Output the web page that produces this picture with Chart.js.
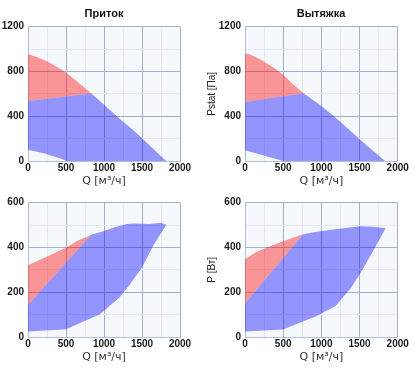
<!DOCTYPE html>
<html><head><meta charset="utf-8">
<script src="https://cdn.jsdelivr.net/npm/chart.js@4"></script>
<style>
html,body{margin:0;padding:0;background:#fff;overflow:hidden;width:417px;height:371px}
#wrap{position:relative;width:417px;height:371px;overflow:hidden;background:#fff}
canvas{position:absolute}
</style></head><body><div id="wrap">
<canvas id="c1" width="208" height="188" style="left:0;top:0"></canvas>
<canvas id="c2" width="242" height="188" style="left:200px;top:0"></canvas>
<canvas id="c3" width="208" height="183" style="left:0;top:188px"></canvas>
<canvas id="c4" width="242" height="183" style="left:200px;top:188px"></canvas>
</div>
<script>
// ---- titles / labels ----
const titles = ['Приток', 'Вытяжка'];
const xTitle = 'Q [м³/ч]';
const yTitlePressure = 'Pstat [Па]';
const yTitlePower = 'P [Вт]';

// ---- axis ranges / ticks ----
const qMax = 2000, qStep = 250, qLabelStep = 500;
const pMax = 1200, pStep = 200, pLabelStep = 400;
const wMax = 600, wStep = 100, wLabelStep = 200;

// ---- Приток, Pstat ----
const supPresRedQ = [0, 132, 263, 395, 500, 614, 746, 833, 0];
const supPresRedV = [955, 925, 887, 836, 791, 728, 654, 603, 537];
const supPresBlueQ = [0, 833, 1009, 1228, 1360, 1491, 1667, 1820, 504, 439, 219, 0];
const supPresBlueV = [537, 603, 498, 364, 290, 209, 96, 0, 0, 21, 66, 101];

// ---- Вытяжка, Pstat ----
const extPresRedQ = [0, 44, 132, 219, 395, 500, 614, 768, 0];
const extPresRedV = [961, 955, 931, 901, 827, 770, 695, 606, 528];
const extPresBlueQ = [0, 768, 1009, 1184, 1300, 1491, 1667, 1835, 500, 0];
const extPresBlueV = [528, 606, 488, 388, 320, 200, 96, 0, 0, 96];

// ---- Приток, P ----
const supPowRedQ = [0, 200, 505, 636, 833, 0];
const supPowRedV = [321, 352, 400, 428, 457, 144];
const supPowBlueQ = [0, 833, 1009, 1140, 1300, 1400, 1600, 1750, 1820, 1650, 1500, 1340, 1200, 940, 500, 0];
const supPowBlueV = [144, 457, 475, 490, 505, 507, 505, 510, 502, 410, 310, 235, 175, 100, 35, 25];

// ---- Вытяжка, P ----
const extPowRedQ = [0, 153, 372, 503, 635, 762, 0];
const extPowRedV = [347, 381, 411, 428, 445, 459, 150];
const extPowBlueQ = [0, 762, 941, 1160, 1510, 1685, 1842, 1680, 1520, 1390, 1190, 945, 500, 0];
const extPowBlueV = [150, 459, 470, 480, 495, 492, 486, 385, 290, 220, 140, 95, 33, 25];

const RED = 'rgba(255,0,0,0.40)';
const BLUE = 'rgba(0,0,255,0.40)';
const MAJOR = '#a3b0cc';
const MINOR = '#e3e8f1';
const TICKFONT = {family: '"Liberation Sans Narrow","Liberation Sans",Arial,sans-serif', size: 10, weight: 'bold'};

const pts = (qs, vs) => qs.map((q, i) => ({x: q, y: vs[i]}));

const bgPlugin = {
  id: 'plotBg',
  beforeDraw(chart) {
    const {ctx, chartArea: a} = chart;
    ctx.save();
    ctx.fillStyle = '#f5f8fc';
    ctx.fillRect(a.left, a.top, a.right - a.left, a.bottom - a.top);
    ctx.restore();
  }
};

function makeChart(id, o) {
  const ds = (qs, vs, color) => ({
    data: pts(qs, vs), showLine: true, fill: 'shape', backgroundColor: color,
    borderColor: 'transparent', borderWidth: 0, pointRadius: 0, tension: 0
  });
  return new Chart(document.getElementById(id), {
    type: 'scatter',
    data: {datasets: [ds(o.blueQ, o.blueV, BLUE), ds(o.redQ, o.redV, RED)]},
    plugins: [bgPlugin],
    options: {
      responsive: false, animation: false, devicePixelRatio: 1,
      layout: {padding: {top: o.padTop || 0, bottom: o.padBottom || 0, left: 0, right: 0}},
      plugins: {
        legend: {display: false}, tooltip: {enabled: false},
        title: {display: !!o.title, text: o.title || '', color: '#111',
          font: {family: '"Liberation Sans",Arial,sans-serif', size: 11, weight: 'bold'},
          padding: {top: 7, bottom: 6.5}}
      },
      scales: {
        x: {
          type: 'linear', min: 0, max: qMax,
          grid: {drawTicks: false, lineWidth: 1,
            color: c => (c.tick && c.tick.value % qLabelStep === 0) ? MAJOR : MINOR},
          border: {color: '#b3bfd8'},
          ticks: {stepSize: qStep, autoSkip: false, maxRotation: 0, padding: 1.5, color: '#1a1a1a', font: TICKFONT,
            callback: v => v % qLabelStep === 0 ? String(v) : ''},
          title: {display: true, text: xTitle, color: '#333',
            font: {family: '"DejaVu Sans",sans-serif', size: 11}, padding: {top: 0, bottom: 0}},
          afterFit: s => { s.height = 27; s.paddingLeft = 0; s.paddingRight = o.padRight; }
        },
        y: {
          type: 'linear', min: 0, max: o.yMax,
          grid: {drawTicks: false, lineWidth: 1,
            color: c => (c.tick && c.tick.value % o.yLabelStep === 0) ? MAJOR : MINOR},
          border: {color: '#b3bfd8'},
          ticks: {stepSize: o.yStep, autoSkip: false, padding: 4, color: '#1a1a1a', font: TICKFONT,
            callback: v => v % o.yLabelStep === 0 ? String(v) : ''},
          title: {display: !!o.yTitle, text: o.yTitle || '', color: '#222',
            font: {family: '"Liberation Sans",Arial,sans-serif', size: 10}, padding: {top: 6, bottom: 0}},
          afterFit: s => { s.width = o.yWidth; s.paddingTop = 0; s.paddingBottom = 0; }
        }
      }
    }
  });
}

makeChart('c1', {title: titles[0], redQ: supPresRedQ, redV: supPresRedV, blueQ: supPresBlueQ, blueV: supPresBlueV,
  yMax: pMax, yStep: pStep, yLabelStep: pLabelStep, yWidth: 28, padRight: 28});
makeChart('c2', {title: titles[1], redQ: extPresRedQ, redV: extPresRedV, blueQ: extPresBlueQ, blueV: extPresBlueV,
  yMax: pMax, yStep: pStep, yLabelStep: pLabelStep, yWidth: 45, padRight: 44.3, yTitle: yTitlePressure});
makeChart('c3', {redQ: supPowRedQ, redV: supPowRedV, blueQ: supPowBlueQ, blueV: supPowBlueV,
  yMax: wMax, yStep: wStep, yLabelStep: wLabelStep, yWidth: 28, padRight: 28, padTop: 14.7, padBottom: 7});
makeChart('c4', {redQ: extPowRedQ, redV: extPowRedV, blueQ: extPowBlueQ, blueV: extPowBlueV,
  yMax: wMax, yStep: wStep, yLabelStep: wLabelStep, yWidth: 45, padRight: 44.3, padTop: 14.7, padBottom: 7, yTitle: yTitlePower});
</script>
</body></html>
